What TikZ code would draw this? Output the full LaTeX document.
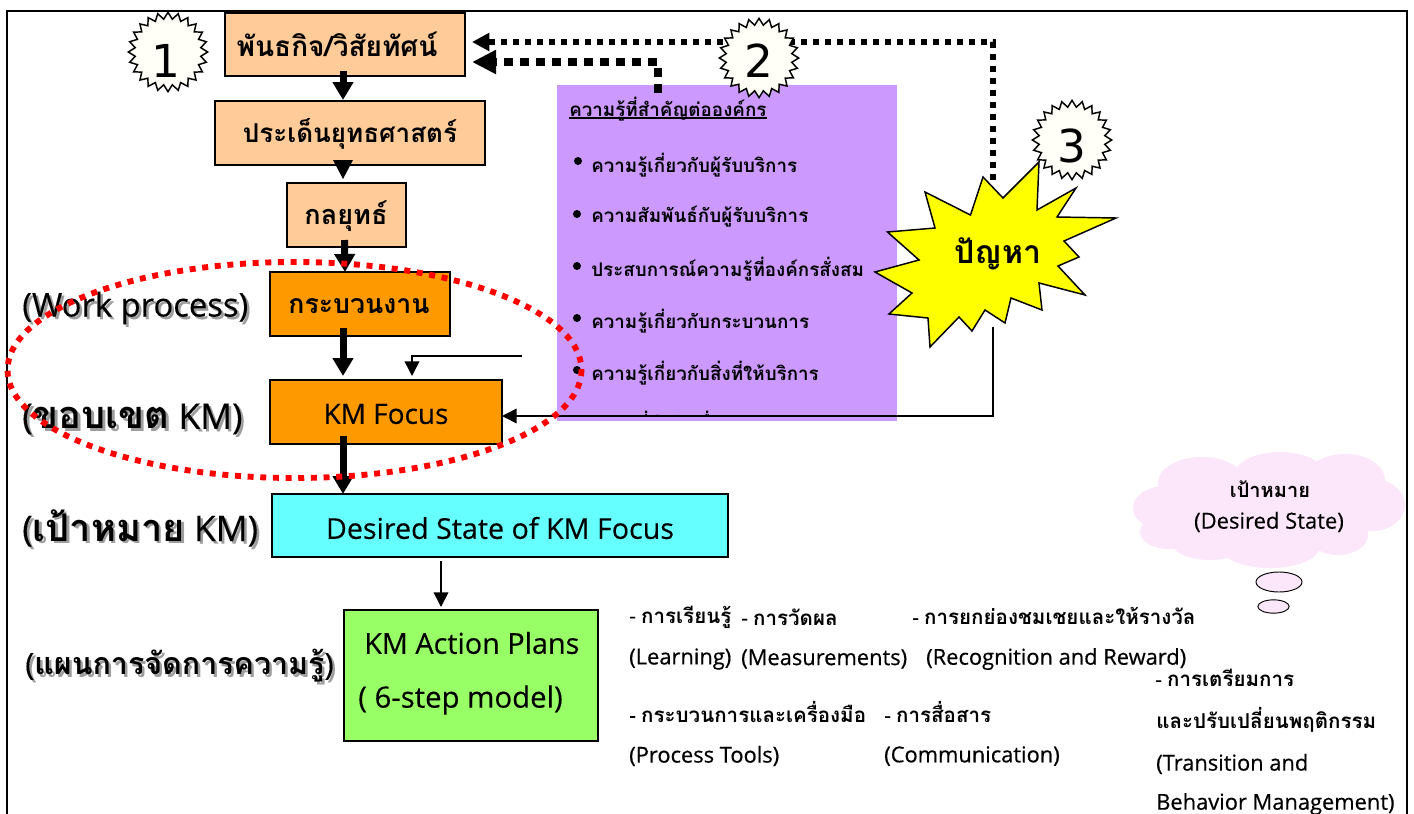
\documentclass[tikz,border=0pt]{standalone}
\usepackage{fontspec}
\usetikzlibrary{arrows.meta,shapes.geometric,calc}
\setmainfont[FakeBold=0.25]{Open Sans}
\newfontfamily\semi[FakeBold=0.5]{Open Sans}
\newfontfamily\thai[Script=Thai]{Loma}
\newfontfamily\digit{DejaVu Sans}
\definecolor{peach}{HTML}{FFCC99}
\definecolor{orangeb}{HTML}{FF9900}
\definecolor{cyanb}{HTML}{66FFFF}
\definecolor{greenb}{HTML}{99FF66}
\definecolor{purpleb}{HTML}{CC99FF}
\definecolor{pinkb}{HTML}{FCE6FA}
\definecolor{ivory}{HTML}{FFFFF7}
\definecolor{bang}{HTML}{FFFF00}
\newcommand{\T}[1]{{\thai\bfseries #1}}
\newcommand{\tsize}[1]{\fontsize{#1pt}{#1pt}\selectfont}
\tikzset{
 x=0.75pt,y=-0.75pt,
 box/.style={draw=black,line width=1.5pt,inner sep=0pt,outer sep=0pt,anchor=north west},
 big arrow/.style={line width=5.25pt,-{Triangle[length=13.5pt,width=15pt]}},
 thin arrow/.style={line width=1.2pt,-{Triangle[length=11pt,width=11pt]}},
 dot small/.style={line width=3.8pt,dash pattern=on 4.5pt off 4.5pt,-{Triangle[length=13pt,width=13pt]}},
 dot big/.style={line width=6pt,dash pattern=on 6.7pt off 5.3pt,-{Triangle[length=18pt,width=17pt]}},
 red ring/.style={draw=red,line width=4.4pt,dash pattern=on 4.5pt off 5pt},
 box text/.style={inner sep=0pt,anchor=center,font=\tsize{21}},
 list text/.style={inner sep=0pt,anchor=west,font=\semi\tsize{16.4}},
 list thai/.style={inner sep=0pt,anchor=west,font=\semi\tsize{15.4}},
 item text/.style={inner sep=0pt,anchor=west,font=\tsize{14.1}},
 burst/.style={star,star points=24,star point ratio=1.2,draw=black,line width=1.1pt,fill=ivory,minimum size=59.5pt,inner sep=0pt,font=\digit\tsize{34}},
 bullet/.style={circle,fill=black,inner sep=0pt,minimum size=6pt},
 thought/.style={ellipse,draw=black,line width=.7pt,fill=pinkb,inner sep=0pt},
}
\newcommand{\shadowed}[3]{%
 \node[inner sep=0pt,anchor=west,font=\tsize{#3},text=black!38] at ($(#1)+(2.5,2.5)$) {#2};
 \node[inner sep=0pt,anchor=west,font=\tsize{#3}] at (#1) {#2};
}
\begin{document}
\begin{tikzpicture}
\useasboundingbox (0,0) rectangle (1414,814);
\fill[white] (0,0) rectangle (1414,814);
\draw[line width=1.5pt] (7,814) -- (7,11) -- (1407,11) -- (1407,814);

% purple panel
\fill[purpleb] (557,85) rectangle (897,421);
\node[item text] (head) at (569,109) {\T{ความรู้ที่สำคัญต่อองค์กร}};
\draw[line width=.9pt] ($(head.west)+(0,9)$) -- ($(head.east)+(0,9)$);
\node[bullet] (b1) at (578,161) {};
\node[item text] (i1) at (591,165) {\T{ความรู้เกี่ยวกับผู้รับบริการ}};
\node[bullet] (b2) at (577,214) {};
\node[item text] (i2) at (591,217) {\T{ความสัมพันธ์กับผู้รับบริการ}};
\node[bullet] (b3) at (577,266) {};
\node[item text] (i3) at (591,269) {\T{ประสบการณ์ความรู้ที่องค์กรสั่งสม}};
\node[bullet] (b4) at (577,318) {};
\node[item text] (i4) at (591,321) {\T{ความรู้เกี่ยวกับกระบวนการ}};
\node[bullet] (b5) at (577,370) {};
\node[item text] (i5) at (591,373) {\T{ความรู้เกี่ยวกับสิ่งที่ให้บริการ}};
\begin{scope}
\clip (557,400) rectangle (897,416);
\node[item text] (i6) at (636,423) {\T{ที่สำคัญอื่น ๆ}};
\end{scope}

% boxes
\node[box,fill=peach,minimum width=180pt,minimum height=47.25pt] (mission) at (225,13) {};
\node[box,fill=peach,minimum width=202.5pt,minimum height=48pt] (issue) at (215,101) {};
\node[box,fill=peach,minimum width=89.25pt,minimum height=48pt] (strategy) at (287,183) {};
\node[box,fill=orangeb,minimum width=135pt,minimum height=48pt] (process) at (270,272) {};
\node[box,fill=orangeb,minimum width=174pt,minimum height=48pt] (focus) at (270,380) {};
\node[box,fill=cyanb,minimum width=342pt,minimum height=47.25pt] (desired) at (272,494) {};
\node[box,fill=greenb,minimum width=190.5pt,minimum height=98.25pt] (plans) at (344,610) {};

% box texts
\node[box text,font=\tsize{21}] at (337,44) {\T{พันธกิจ/วิสัยทัศน์}};
\node[box text,font=\tsize{19.5}] at (350,134) {\T{ประเด็นยุทธศาสตร์}};
\node[box text,font=\tsize{20.3}] at (346,216) {\T{กลยุทธ์}};
\node[box text,font=\tsize{20}] at (359,306) {\T{กระบวนงาน}};
\node[box text,font=\tsize{21}] at (386,414) {KM Focus};
\node[box text,font=\tsize{21.5}] at (500,528) {Desired State of KM Focus};
\node[box text,font=\tsize{21.6},anchor=west] at (364,643) {KM Action Plans};
\node[box text,font=\tsize{22},anchor=west] at (358,700) {( 6-step model)};

% left labels
\coordinate (w) at (22,308);
\coordinate (s) at (22,419);
\coordinate (g) at (22,528);
\coordinate (a) at (25,666);
\shadowed{w}{(Work process)}{24.6}
\shadowed{s}{(\T{\tsize{28.5}ขอบเขต} KM)}{26.5}
\shadowed{g}{(\T{\tsize{28.5}เป้าหมาย} KM)}{26.5}
\shadowed{a}{(\T{\tsize{22.8}แผนการจัดการความรู้})}{23}

% solid flow arrows
\draw[big arrow] ($(mission.south)+(-2,-5)$) -- ($(issue.north)+(-7,-1)$);
\fill ($(issue.south)+(-17,-5)$) -- ($(issue.south)+(3,-5)$) -- ($(strategy.north)+(-3.5,-4)$) -- cycle;
\draw[big arrow] ($(strategy.south)+(-2,-7)$) -- ($(process.north)+(-15,0)$);
\draw[big arrow] ($(process.south)+(-17,-8)$) -- ($(focus.north)+(-43,-4)$);
\draw[big arrow] ($(focus.south)+(-43,-8)$) -- ($(desired.north)+(-157,0)$);
\draw[thin arrow] ($(desired.south)+(-59,4)$) -- ($(plans.north)+(-30,-3)$);

% yellow problem star
\filldraw[fill=bang,draw=black,line width=1.1pt]
 (1039,162) -- (1037,210) -- (1076,188) -- (1057,217) -- (1116,218) -- (1064,241) -- (1079,257)
 -- (1058,266) -- (1085,295) -- (1039,283) -- (1042,310) -- (1011,298) -- (1005,323) -- (985,310)
 -- (972,331) -- (959,317) -- (930,347) -- (928,318) -- (889,314) -- (912,293) -- (875,272)
 -- (919,260) -- (887.5,232) -- (935,228) -- (925,192) -- (970.5,215) -- (983,177) -- (1003,198) -- cycle;
\node[box text,font=\tsize{24}] (problem) at (998,254) {\T{ปัญหา}};
\coordinate (probTop) at (993,180);
\coordinate (probBot) at (993,327);
\coordinate (panelTop) at (658,93);
\coordinate (loose) at (522,356);

% connectors
\draw[dot small] (probTop) -- (probTop |- 0,42) -- ($(mission.east)+(7,-2.5)$);
\draw[dot big] (panelTop) -- (panelTop |- 0,62) -- ($(mission.east)+(7,17.5)$);
\draw[thin arrow] (probBot) |- ($(focus.east)+(0,4)$);
\draw[thin arrow] (loose) -- (412,356) -- ($(focus.north)+(26,-4)$);

% numbered bursts
\node[burst] (n1) at (168,52) {\hspace{-3pt}\raisebox{-18.75pt}[0pt][0pt]{1}};
\node[burst] (n2) at (759,58) {\raisebox{-14.6pt}[0pt][0pt]{2}};
\node[burst] (n3) at (1072,140) {\raisebox{-16.9pt}[0pt][0pt]{3}};

% red ellipse
\draw[red ring] (294.5,370) ellipse [x radius=287,y radius=108];

% cloud
\fill[pinkb]
 (1270,510) ellipse [x radius=110,y radius=45]
 (1165,508) ellipse [x radius=32,y radius=22]
 (1168,532) ellipse [x radius=28,y radius=17]
 (1202,483) ellipse [x radius=44,y radius=26]
 (1280,476) ellipse [x radius=46,y radius=24]
 (1345,480) ellipse [x radius=40,y radius=26]
 (1372,505) ellipse [x radius=33,y radius=26]
 (1210,540) ellipse [x radius=40,y radius=20]
 (1270,546) ellipse [x radius=50,y radius=22]
 (1338,535) ellipse [x radius=30,y radius=20];
\node[inner sep=0pt,font=\tsize{15}] (c1) at (1270,489) {\T{เป้าหมาย}};
\node[inner sep=0pt,font=\tsize{16.5}] (c2) at (1269,522) {(Desired State)};
\node[thought,minimum width=34.5pt,minimum height=15pt] (t1) at (1279,582) {};
\node[thought,minimum width=23.5pt,minimum height=10pt] (t2) at (1273.5,606.5) {};

% right lists
\node[list thai] (r1) at (629,617) {- \T{การเรียนรู้}};
\node[list thai] (r1b) at (741,617) {- \T{การวัดผล}};
\node[list thai] (r2) at (912,616) {- \T{การยกย่องชมเชยและให้รางวัล}};
\node[list text] (r3) at (629,659) {(Learning)};
\node[list text] (r4) at (741,659) {(Measurements)};
\node[list text] (r5) at (926,659) {(Recognition and Reward)};
\node[list thai] (r6) at (1155,678) {- \T{การเตรียมการ}};
\node[list thai] (r7) at (629,712) {- \T{กระบวนการและเครื่องมือ}};
\node[list thai] (r8) at (884,712) {- \T{การสื่อสาร}};
\node[list thai] (r9) at (1156,720) {\T{และปรับเปลี่ยนพฤติกรรม}};
\node[list text] (r10) at (629,756) {(Process Tools)};
\node[list text] (r11) at (884,756) {(Communication)};
\node[list text] (r12) at (1156,764) {(Transition and};
\node[list text] (r13) at (1156,804) {Behavior Management)};
\end{tikzpicture}
\end{document}
